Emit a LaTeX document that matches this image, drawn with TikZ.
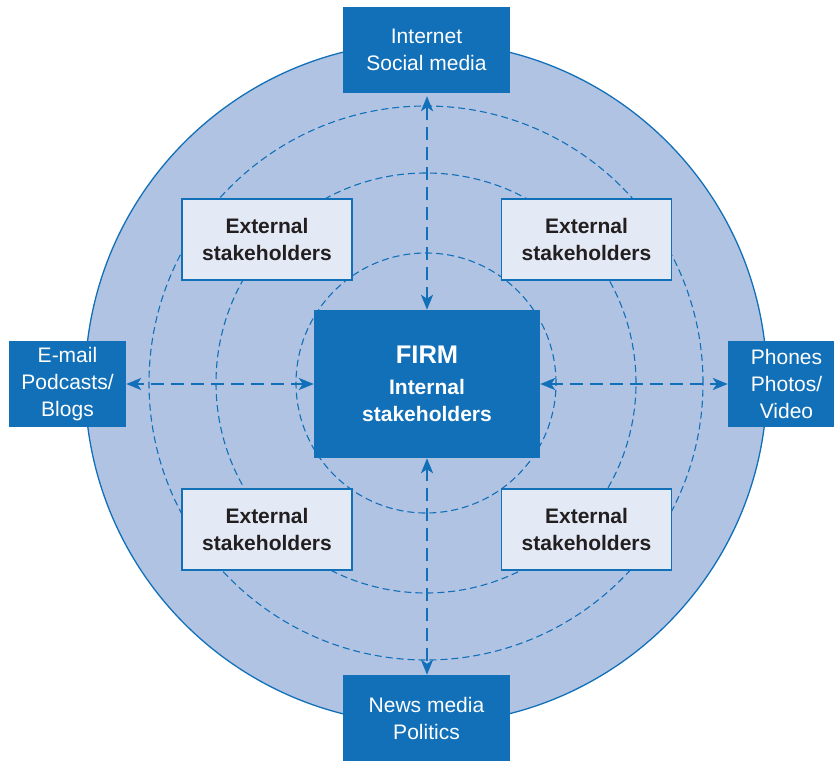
\documentclass[tikz,border=0pt]{standalone}
\usepackage{fontspec}
\setmainfont{Liberation Sans}
\usetikzlibrary{arrows.meta}
\definecolor{boxblue}{HTML}{1170B8}
\definecolor{ringfill}{HTML}{B1C3E3}
\definecolor{extfill}{HTML}{E3E9F5}
\definecolor{exttext}{HTML}{231F20}

\begin{document}
\begin{tikzpicture}[x=1pt,y=1pt,
	media/.style={fill=boxblue, text=white, minimum width=167pt, minimum height=86pt, inner sep=0pt, align=center, font=\fontsize{21}{27}\selectfont},
	ext/.style={draw=boxblue, line width=1.2pt, fill=extfill, text=exttext, minimum width=170pt, minimum height=81pt, inner sep=0pt, align=center, font=\fontsize{21}{27}\selectfont\bfseries},
	link/.style={boxblue, line width=2.5pt, dash pattern=on 13pt off 7pt, <->, >={Stealth[length=15pt,width=12pt,inset=4pt]}}]
\useasboundingbox (0,0) rectangle (834,761);
\fill[ringfill] (426,378) circle (341pt);
\draw[boxblue, line width=1.3pt] (426,378) circle (341pt);
\foreach \r in {130,210,277}
	\draw[boxblue, line width=1.1pt, dash pattern=on 7pt off 4pt] (426,378) circle (\r pt);
% channels round the ring
\node[media] (web) at (426.5,711) {Internet\\Social media};
\node[media] (news) at (426.5,43) {News media\\Politics};
\node[media, minimum width=117pt] (mail) at (67.5,377) {E-mail\\Podcasts/\\Blogs};
\node[media, minimum width=117pt] (phones) at (786.5,377) {Phones\\Photos/\\Video};
% firm and its stakeholders
\node[media, minimum width=226pt, minimum height=148pt, font=\fontsize{21}{27}\selectfont\bfseries] (firm) at (427,377)
	{{\fontsize{25.5}{30}\selectfont FIRM}\\[4pt]Internal\\stakeholders};
\node[ext] (extnw) at (267,521.5) {External\\stakeholders};
\node[ext] (extne) at (586.5,521.5) {External\\stakeholders};
\node[ext] (extsw) at (267,231.5) {External\\stakeholders};
\node[ext] (extse) at (586.5,231.5) {External\\stakeholders};
\draw[link] (firm.north) -- ([yshift=-3pt]web.south -| firm.north);
\draw[link] (firm.south) -- (news.north -| firm.south);
\draw[link] (firm.west) -- (mail.east);
\draw[link] (firm.east) -- (phones.west);
\end{tikzpicture}
\end{document}
